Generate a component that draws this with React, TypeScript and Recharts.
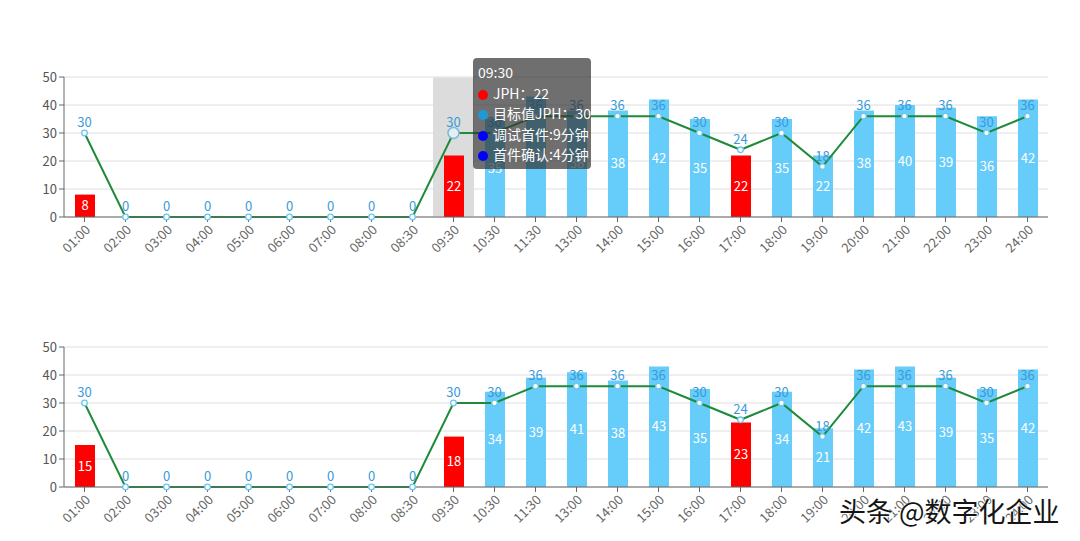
import {
  BarChart,
  Bar,
  Line,
  XAxis,
  YAxis,
  CartesianGrid,
  Tooltip,
  LabelList,
  Cell,
} from "recharts";

// hourly slots on the x axis
const hours = [
  "01:00", "02:00", "03:00", "04:00", "05:00", "06:00", "07:00", "08:00",
  "08:30", "09:30", "10:30", "11:30", "13:00", "14:00", "15:00", "16:00",
  "17:00", "18:00", "19:00", "20:00", "21:00", "22:00", "23:00", "24:00",
];

// upper panel
const jphTop = [8, 0, 0, 0, 0, 0, 0, 0, 0, 22, 35, 43, 38, 38, 42, 35, 22, 35, 22, 38, 40, 39, 36, 42];
const targetTop = [30, 0, 0, 0, 0, 0, 0, 0, 0, 30, 30, 36, 36, 36, 36, 30, 24, 30, 18, 36, 36, 36, 30, 36];

// lower panel
const jphBottom = [15, 0, 0, 0, 0, 0, 0, 0, 0, 18, 34, 39, 41, 38, 43, 35, 23, 34, 21, 42, 43, 39, 35, 42];
const targetBottom = [30, 0, 0, 0, 0, 0, 0, 0, 0, 30, 30, 36, 36, 36, 36, 30, 24, 30, 18, 36, 36, 36, 30, 36];

const yTicks = [0, 10, 20, 30, 40, 50];

// extra lines shown in the hover box of the upper panel
const hoverIndex = 9;
const hoverNotes = ["调试首件:9分钟", "首件确认:4分钟"];

const font = "'Microsoft YaHei', 'Noto Sans CJK SC', sans-serif";
const blue = "#66ccfa";
const red = "#ff0000";

function buildRows(jph: number[], target: number[]) {
  return hours.map((hour, i) => ({ hour, jph: jph[i], target: target[i] }));
}

function Dot({ color }: { color: string }) {
  return (
    <span
      style={{
        display: "inline-block",
        width: 10,
        height: 10,
        borderRadius: 5,
        background: color,
        marginRight: 5,
        verticalAlign: "-1px",
      }}
    />
  );
}

function TipBox({ active, payload, label }: any) {
  if (!active || !payload || !payload.length) return null;
  const row = payload[0].payload;
  return (
    <div
      style={{
        background: "rgba(50,50,50,0.7)",
        borderRadius: 4,
        padding: "4px 5px",
        color: "#fff",
        fontSize: 14,
        lineHeight: "20.5px",
        width: 108,
        fontFamily: font,
        whiteSpace: "nowrap",
      }}
    >
      <div>{label}</div>
      <div>
        <Dot color={red} />
        JPH：{row.jph}
      </div>
      <div>
        <Dot color="#1e9bd7" />
        目标值JPH：{row.target}
      </div>
      {hoverNotes.map((n) => (
        <div key={n}>
          <Dot color="#0000ff" />
          {n}
        </div>
      ))}
    </div>
  );
}

function Panel({ jph, target, withTip }: { jph: number[]; target: number[]; withTip?: boolean }) {
  const rows = buildRows(jph, target);
  return (
    <BarChart
      width={1080}
      height={270}
      data={rows}
      margin={{ top: 77, right: 32, bottom: 3, left: 0 }}
      style={{ fontFamily: font }}
    >
      <CartesianGrid vertical={false} stroke="#dedede" />
      <XAxis
        dataKey="hour"
        interval={0}
        height={50}
        stroke="#666"
        tickSize={5}
        angle={-45}
        textAnchor="end"
        tick={{ fontSize: 13, fill: "#666" }}
      />
      <YAxis
        width={64}
        domain={[0, 50]}
        ticks={yTicks}
        stroke="#666"
        tickSize={5}
        tick={{ fontSize: 13, fill: "#555" }}
      />
      {withTip && (
        <Tooltip
          defaultIndex={hoverIndex}
          active
          position={{ x: 473, y: 58 }}
          content={<TipBox />}
          cursor={{ fill: "#dcdcdc" }}
          isAnimationActive={false}
        />
      )}
      <Bar dataKey="jph" barSize={20} isAnimationActive={false}>
        {rows.map((r, i) => (
          <Cell key={`c-${i}`} fill={r.jph < r.target ? red : blue} />
        ))}
        <LabelList
          dataKey="jph"
          position="center"
          fill="#fff"
          fontSize={13}
          formatter={(v: any) => (v ? v : "")}
        />
      </Bar>
      <Line
        dataKey="target"
        stroke="#1f8b3a"
        strokeWidth={2}
        dot={{ r: 2.8, fill: "#fff", stroke: "#6cc6ee", strokeWidth: 1.3 }}
        activeDot={{ r: 5.5, fill: "#e4eef5", stroke: "#7bb8dc", strokeWidth: 1.5 }}
        isAnimationActive={false}
      >
        <LabelList dataKey="target" position="top" fill="#3a9ad9" fontSize={13} offset={6} />
      </Line>
    </BarChart>
  );
}

export default function App() {
  return (
    <div style={{ position: "absolute", left: 0, top: 0, width: 1080, height: 541, background: "#fff" }}>
      <Panel jph={jphTop} target={targetTop} withTip />
      <Panel jph={jphBottom} target={targetBottom} />
      <div
        style={{
          position: "absolute",
          left: 839,
          top: 491,
          fontSize: 27,
          fontFamily: "'Noto Sans CJK SC', sans-serif",
          color: "#151515",
          textShadow: "0 0 2px #fff, 0 0 2px #fff, 1px 1px 1px #fff",
          whiteSpace: "nowrap",
        }}
      >
        头条 @数字化企业
      </div>
    </div>
  );
}
